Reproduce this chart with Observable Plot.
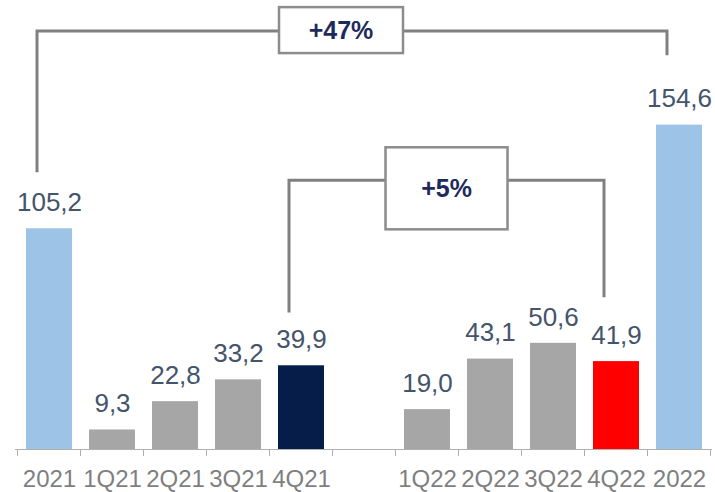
<!DOCTYPE html>
<html>
<head>
<meta charset="utf-8">
<script src="https://cdn.jsdelivr.net/npm/d3@7"></script>
<script src="https://cdn.jsdelivr.net/npm/@observablehq/plot@0.6"></script>
<style>
  html, body { margin: 0; padding: 0; background: #ffffff; }
</style>
</head>
<body>
<div id="chart"></div>
<script>
// ---- data ----
const categories = ["2021", "1Q21", "2Q21", "3Q21", "4Q21", " ", "1Q22", "2Q22", "3Q22", "4Q22", "2022"];
const values     = [105.2, 9.3, 22.8, 33.2, 39.9, null, 19.0, 43.1, 50.6, 41.9, 154.6];
const valueLabels = ["105,2", "9,3", "22,8", "33,2", "39,9", "", "19,0", "43,1", "50,6", "41,9", "154,6"];
const barColors  = ["#9DC3E6", "#A6A6A6", "#A6A6A6", "#A6A6A6", "#061D4A", "#ffffff", "#A6A6A6", "#A6A6A6", "#A6A6A6", "#FF0000", "#9DC3E6"];

// growth brackets (levels in data units)
const bracketFrom   = ["2021", "4Q21"];
const bracketTo     = ["2022", "4Q22"];
const bracketLabels = ["+47%", "+5%"];
const bracketTop    = [199.2, 128.1];
const bracketFromEnd = [131.9, 65.1];
const bracketToEnd   = [187.7, 72.3];
const boxTop        = [210.6, 143.8];
const boxBottom     = [188.7, 104.7];

// ---- build table ----
const bars = categories.map((c, i) => ({cat: c, value: values[i], label: valueLabels[i], color: barColors[i]}))
  .filter(d => d.value != null);

const FONT = "'Liberation Sans', Arial, Helvetica, sans-serif";
const GRAY = "#808080";
const boxWidths = [124, 122];
const boxDx = [-11, 0];
const vertDx = -12;

function annotations(index, scales) {
  const sx = scales.x, sy = scales.y;
  const bw = typeof sx.bandwidth === "function" ? sx.bandwidth() : sx.bandwidth;
  const step = typeof sx.step === "function" ? sx.step() : (sx.step != null ? sx.step : bw / 0.73);
  const cx = c => sx(c) + bw / 2;
  const g = d3.create("svg:g");
  // axis ticks at band boundaries
  const y0 = sy(0);
  const bounds = categories.map(c => sx(c) - (step - bw) / 2);
  bounds.push(sx(categories[categories.length - 1]) + bw + (step - bw) / 2);
  bounds.forEach(b => {
    g.append("line").attr("x1", b).attr("x2", b).attr("y1", y0).attr("y2", y0 + 7)
      .attr("stroke", "#b0b0b0").attr("stroke-width", 1);
  });
  // brackets
  bracketFrom.forEach((f, i) => {
    const xl = cx(f) + vertDx, xr = cx(bracketTo[i]) + vertDx;
    const yt = sy(bracketTop[i]);
    g.append("path")
      .attr("d", `M${xl},${sy(bracketFromEnd[i])}V${yt}H${xr}V${sy(bracketToEnd[i])}`)
      .attr("fill", "none").attr("stroke", GRAY).attr("stroke-width", 3);
    const mid = (xl + xr) / 2 + boxDx[i];
    const bt = sy(boxTop[i]), bb = sy(boxBottom[i]);
    g.append("rect").attr("x", mid - boxWidths[i] / 2).attr("y", bt)
      .attr("width", boxWidths[i]).attr("height", bb - bt)
      .attr("fill", "#ffffff").attr("stroke", "#8c8c8c").attr("stroke-width", 2.5);
    g.append("text").attr("x", mid).attr("y", (bt + bb) / 2)
      .attr("text-anchor", "middle").attr("dy", "0.35em")
      .attr("font-family", FONT).attr("font-weight", "bold").attr("font-size", 25)
      .attr("fill", "#1F2A5C").text(bracketLabels[i]);
  });
  return g.node();
}

const chart = Plot.plot({
  width: 715,
  height: 492,
  marginTop: 0,
  marginBottom: 43,
  marginLeft: 15,
  marginRight: 3,
  style: {fontFamily: FONT, background: "#ffffff"},
  x: {domain: categories, paddingInner: 0.27, paddingOuter: 0.135, axis: null},
  y: {domain: [0, 214], axis: null},
  marks: [
    Plot.barY(bars, {x: "cat", y: "value", fill: "color"}),
    Plot.ruleY([0], {stroke: "#b0b0b0", strokeWidth: 1}),
    Plot.text(bars, {x: "cat", y: "value", text: "label", dy: -26, fontSize: 26, fill: "#44546A"}),
    Plot.text(categories, {x: d => d, y: () => 0, text: d => d.trim(), dy: 30, fontSize: 24, fill: "#7F7F7F"}),
    annotations
  ]
});
document.getElementById("chart").appendChild(chart);
</script>
</body>
</html>
